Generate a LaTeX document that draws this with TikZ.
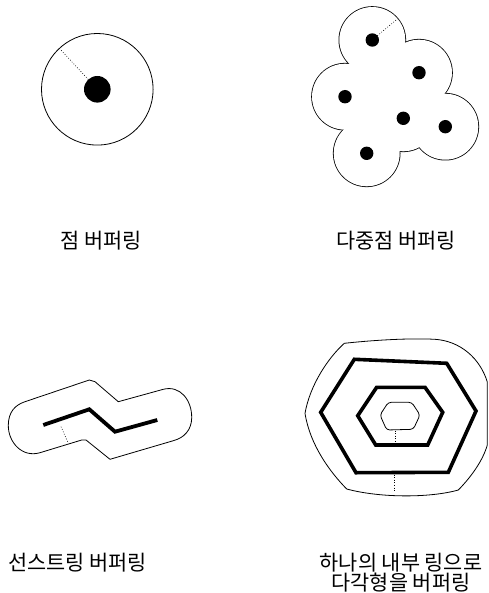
\documentclass[tikz,border=0pt]{standalone}
\usepackage{fontspec}
\newfontfamily\kr{Noto Sans CJK KR}
\begin{document}
\begin{tikzpicture}[x=1pt,y=-1pt,
  thinline/.style={line width=0.8pt},
  thickline/.style={line width=3.6pt},
  dotline/.style={line width=0.6pt, dash pattern=on 0.8pt off 1.8pt},
  lbl/.style={font=\kr\fontsize{21}{19.8}\selectfont, inner sep=0pt, align=center,
    xscale=0.99, transform shape}]
\useasboundingbox (0,0) rectangle (488,593);

% ---------- panel 1: point buffer ----------
\coordinate (p1) at (97.3,89.3);
\draw[thinline] (p1) circle[radius=55.8pt];
\fill (p1) circle[radius=13.3pt];
\coordinate (p1a) at (88.3,79.5);
\coordinate (p1b) at (59.4,48.4);
\draw[dotline] (p1a) -- (p1b);
\node[lbl] (l1) at (100.8,241) {점 버퍼링};

% ---------- panel 2: multipoint buffer ----------
\coordinate (m1) at (372.3,40);
\coordinate (m2) at (419,72.7);
\coordinate (m3) at (345,96.7);
\coordinate (m4) at (403.3,118.3);
\coordinate (m5) at (445.3,126.7);
\coordinate (m6) at (366.7,153.3);
\foreach \n in {1,...,6} \draw[line width=1.6pt] (m\n) circle[radius=33pt];
\foreach \n in {1,...,6} \fill[white] (m\n) circle[radius=33pt];
\fill[white] (m1) -- (m2) -- (m5) -- (m4) -- (m6) -- (m3) -- cycle;
\foreach \n in {1,...,6} \fill (m\n) circle[radius=6.7pt];
\coordinate (m1a) at (377.4,35.7);
\coordinate (m1b) at (397.6,18.8);
\draw[dotline] (m1a) -- (m1b);
\node[lbl] (l2) at (395.8,241) {다중점 버퍼링};

% ---------- panel 3: linestring buffer ----------
\coordinate (s1) at (43.3,425);
\coordinate (s2) at (89.3,409.3);
\coordinate (s3) at (115,431.7);
\coordinate (s4) at (157.3,420);
\draw[thinline] (25,401.7) -- (89.3,380) -- (95,381.7) -- (118.3,401.7) -- (163.3,389.3)
  .. controls (180,385) and (192,400) .. (191.7,418)
  .. controls (191.5,430) and (184,438) .. (173.3,440.7)
  -- (110,459.3) -- (86,440) -- (81.7,440) -- (40,452.7)
  .. controls (22,458) and (8,442) .. (8.3,425)
  .. controls (8.5,412) and (15,405) .. (25,401.7) -- cycle;
\draw[line width=3.8pt] (s1) -- (s2) -- (s3) -- (s4);
\coordinate (s5) at (61,426.7);
\coordinate (s6) at (68.3,443.3);
\draw[dotline] (s5) -- (s6);
\node[lbl] (l3) at (77.5,563) {선스트링 버퍼링};

% ---------- panel 4: polygon with hole buffer ----------
\draw[thinline] (344.3,343.3) .. controls (375,340) and (410,338) .. (435,339.3)
  .. controls (460,341) and (480,358) .. (487.3,382)
  -- (487.3,445)
  .. controls (483,460) and (472,476) .. (458.3,490)
  .. controls (430,498) and (380,498) .. (346.7,489)
  .. controls (330,472) and (310,445) .. (305,413.3)
  .. controls (310,385) and (328,358) .. (344.3,343.3) -- cycle;
\draw[thickline] (354.3,359.3) -- (446.7,363.3) -- (476,411) -- (448.3,472.3)
  -- (356,472.7) -- (320.7,412.3) -- cycle;
\draw[thickline] (376.7,387.3) -- (425,387.3) -- (442.7,412.3) -- (427.7,445)
  -- (375.7,445) -- (357.7,415.7) -- cycle;
\draw[thinline, rounded corners=3pt] (388.3,402.3) -- (411.7,402.3) -- (420,415)
  -- (413.3,429.3) -- (386.7,430) -- (380,415) -- cycle;
\coordinate (h1) at (395,430.5);
\coordinate (h2) at (395,443.3);
\draw[dotline] (h1) -- (h2);
\coordinate (h3) at (394.5,474.5);
\coordinate (h4) at (394.5,492);
\draw[dotline] (h3) -- (h4);
\node[lbl] (l4) at (401,572.5) {하나의 내부 링으로\\다각형을 버퍼링};
\end{tikzpicture}
\end{document}
